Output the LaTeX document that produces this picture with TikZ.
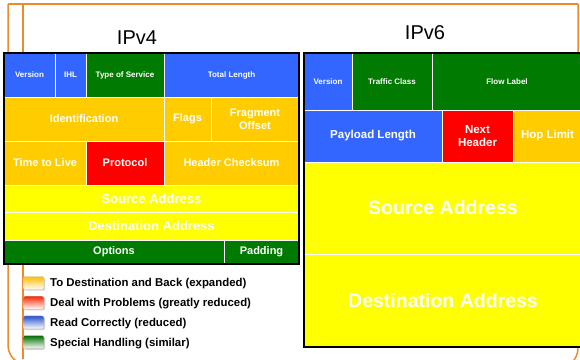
\documentclass[tikz,border=0pt]{standalone}
\usepackage{fontspec}
\setmainfont{Liberation Sans}
\usetikzlibrary{positioning,shadows}
\definecolor{ipblue}{HTML}{3366FF}
\definecolor{ipgreen}{HTML}{007A00}
\definecolor{ipamber}{HTML}{FFCC00}
\definecolor{ipred}{HTML}{FF0000}
\definecolor{ipyellow}{HTML}{FFFF00}
\definecolor{slideorange}{HTML}{F0892A}
\begin{document}
\begin{tikzpicture}[x=1pt,y=-1pt,
  frame/.style={slideorange,line width=1.5pt},
  cell/.style={draw=white,line width=0.6pt,inner sep=0,outer sep=0,anchor=north west,
    text=white,align=center,font=\bfseries\fontsize{11}{13}\selectfont},
  tinytext/.style={font=\bfseries\fontsize{8}{10}\selectfont},
  bigtext/.style={font=\bfseries\fontsize{13}{15}\selectfont},
  hugetext/.style={font=\bfseries\fontsize{19.5}{22}\selectfont},
  title/.style={font=\fontsize{20}{24}\selectfont},
  key/.style={minimum width=21pt,minimum height=13pt,inner sep=0,outer sep=0,rounded corners=2pt,
    draw=gray!50,bottom color=white,drop shadow={shadow xshift=1pt,shadow yshift=-1.2pt,fill=gray!70}},
  keytext/.style={inner sep=0,font=\bfseries\fontsize{11.4}{13}\selectfont}]
\useasboundingbox (0,0) rectangle (580,359);
\clip (0,0) rectangle (580,359);
% slide frame
\draw[frame] (8,4)--(578,4);
\draw[frame,rounded corners=20] (8,4)--(8,365)--(60,365);
\draw[frame,rounded corners=20] (578,4)--(578,368)--(520,368);
\draw[frame] (23,4)--(23,359);
% titles
\node[title] (t4) at (137,38) {IPv4};
\node[title] (t6) at (425,33) {IPv6};
% IPv4 header
\node[cell,tinytext,fill=ipblue,minimum width=51,minimum height=44] (v4ver) at (4,53) {Version};
\node[cell,tinytext,fill=ipblue,minimum width=31,minimum height=44] (v4ihl) at (55,53) {IHL};
\node[cell,tinytext,fill=ipgreen,minimum width=78,minimum height=44] (v4tos) at (86,53) {Type of Service};
\node[cell,tinytext,fill=ipblue,minimum width=135,minimum height=44] (v4len) at (164,53) {Total Length};
\node[cell,fill=ipamber,minimum width=160,minimum height=44] (v4id) at (4,97) {Identification};
\node[cell,fill=ipamber,minimum width=47,minimum height=44] (v4flg) at (164,97) {Flags};
\node[cell,fill=ipamber,minimum width=88,minimum height=44] (v4frag) at (211,97) {Fragment\\Offset};
\node[cell,fill=ipamber,minimum width=82,minimum height=44] (v4ttl) at (4,141) {Time to Live};
\node[cell,fill=ipred,minimum width=78,minimum height=44] (v4prot) at (86,141) {Protocol};
\node[cell,fill=ipamber,minimum width=135,minimum height=44] (v4chk) at (164,141) {Header Checksum};
\node[cell,bigtext,fill=ipyellow,minimum width=295,minimum height=27] (v4src) at (4,185) {Source Address};
\node[cell,bigtext,fill=ipyellow,minimum width=295,minimum height=28] (v4dst) at (4,212) {Destination Address};
\node[cell,fill=ipgreen,minimum width=220,minimum height=24] (v4opt) at (4,240) {Options};
\node[cell,fill=ipgreen,minimum width=75,minimum height=24] (v4pad) at (224,240) {Padding};
\draw[line width=2pt] (v4ver.north west) rectangle (v4pad.south east);
% IPv6 header
\node[cell,tinytext,fill=ipblue,minimum width=48,minimum height=57] (v6ver) at (304,53) {Version};
\node[cell,tinytext,fill=ipgreen,minimum width=80,minimum height=57] (v6cls) at (352,53) {Traffic Class};
\node[cell,tinytext,fill=ipgreen,minimum width=150,minimum height=57] (v6flow) at (432,53) {Flow Label};
\node[cell,fill=ipblue,font=\bfseries\fontsize{11.5}{13}\selectfont,minimum width=138,minimum height=52] (v6pay) at (304,110) {Payload Length};
\node[cell,fill=ipred,font=\bfseries\fontsize{11.5}{13}\selectfont,minimum width=71,minimum height=52] (v6nxt) at (442,110) {Next\\Header};
\node[cell,fill=ipamber,font=\bfseries\fontsize{11.5}{13}\selectfont,minimum width=69,minimum height=52] (v6hop) at (513,110) {Hop Limit};
\node[cell,hugetext,fill=ipyellow,minimum width=278,minimum height=92] (v6src) at (304,162) {Source Address};
\node[cell,hugetext,fill=ipyellow,minimum width=278,minimum height=93] (v6dst) at (304,254) {Destination Address};
\draw[line width=2pt] (v6ver.north west) rectangle (v6dst.south east);
% legend
\node[key,top color=ipamber!80!orange] (k1) at (33.5,283) {};
\node[key,top color=ipred!70!orange,below=6.7pt of k1] (k2) {};
\node[key,top color=ipblue!80!black,below=6.7pt of k2] (k3) {};
\node[key,top color=ipgreen!90!black,below=6.7pt of k3] (k4) {};
\node[keytext,right=6pt of k1,yshift=-1pt] (k1t) {To Destination and Back (expanded)};
\node[keytext,right=6pt of k2,yshift=-1pt] (k2t) {Deal with Problems (greatly reduced)};
\node[keytext,right=6pt of k3,yshift=-1pt] (k3t) {Read Correctly (reduced)};
\node[keytext,right=6pt of k4,yshift=-1pt] (k4t) {Special Handling (similar)};
\end{tikzpicture}
\end{document}
